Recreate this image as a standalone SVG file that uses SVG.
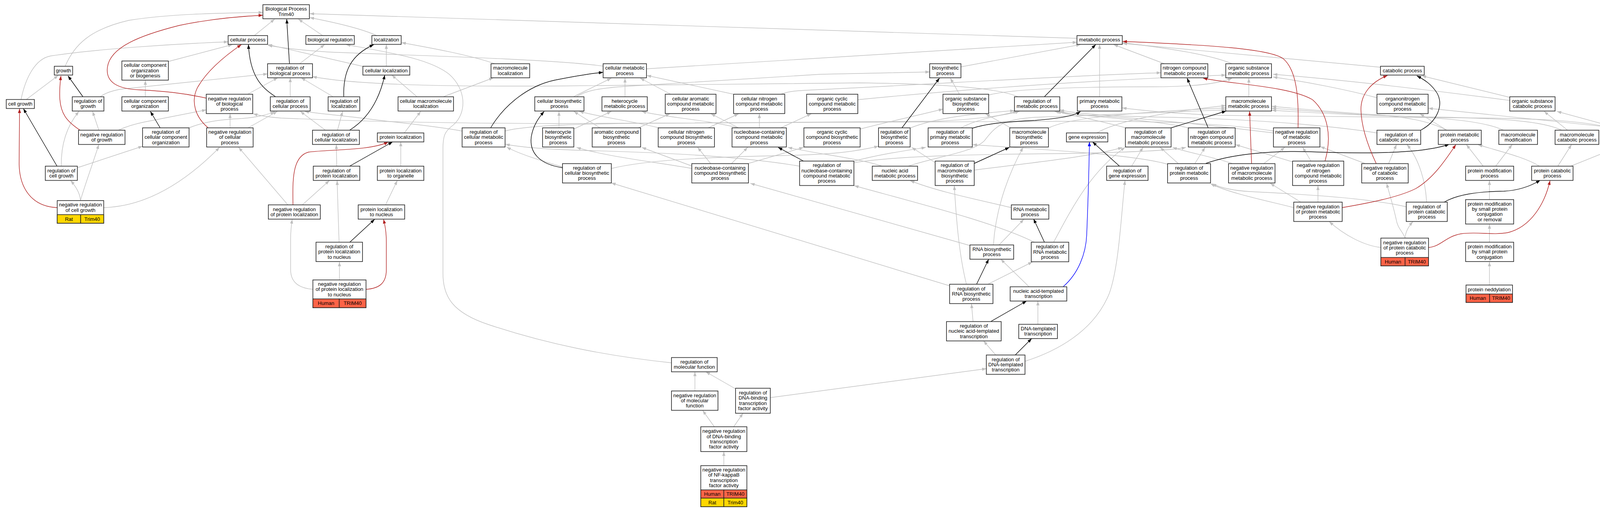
<svg xmlns="http://www.w3.org/2000/svg" width="4281" height="1307" viewBox="0 0 4281 1307">
<style>
text{font-family:"Liberation Sans",Arial,sans-serif;font-size:13px;text-anchor:middle;fill:#000}
.n rect{fill:#fff;stroke:#222;stroke-width:1.6}
rect.hu{fill:#ff6347}
rect.ra{fill:#ffd700}
#connectors path{fill:none;stroke-width:1.4}
#connectors .g{stroke:#c0c0c0;marker-end:url(#ag)}
#connectors .k{stroke:#000;marker-end:url(#ak)}
#connectors .r{stroke:#b22222;marker-end:url(#ar)}
#connectors .b{stroke:#0000ff;marker-end:url(#ab)}
</style>
<defs>
<marker id="ag" viewBox="0 0 11 8" refX="11" refY="4" markerWidth="11" markerHeight="8" markerUnits="userSpaceOnUse" orient="auto"><path d="M0,0L11,4L0,8z" fill="#c0c0c0"/></marker>
<marker id="ak" viewBox="0 0 11 8" refX="11" refY="4" markerWidth="11" markerHeight="8" markerUnits="userSpaceOnUse" orient="auto"><path d="M0,0L11,4L0,8z" fill="#000"/></marker>
<marker id="ar" viewBox="0 0 11 8" refX="11" refY="4" markerWidth="11" markerHeight="8" markerUnits="userSpaceOnUse" orient="auto"><path d="M0,0L11,4L0,8z" fill="#b22222"/></marker>
<marker id="ab" viewBox="0 0 11 8" refX="11" refY="4" markerWidth="11" markerHeight="8" markerUnits="userSpaceOnUse" orient="auto"><path d="M0,0L11,4L0,8z" fill="#0000ff"/></marker>
</defs>
<rect width="4281" height="1307" fill="#fff"/>
<g id="connectors">
<path class="g" d="M651,91L703,49"/>
<path class="g" d="M826,91L764,49"/>
<path class="g" d="M964,91C930,75 860,58 793,45"/>
<path class="g" d="M2757,98L793,35"/>
<path class="g" d="M167,169C190,115 230,75 330,52C430,36 560,33 673,32"/>
<path class="g" d="M767,163L831,114"/>
<path class="g" d="M432,157L595,114"/>
<path class="g" d="M54,254C65,200 90,150 130,143C250,125 450,112 584,107"/>
<path class="g" d="M930,170L686,114"/>
<path class="g" d="M1544,169C1400,150 1000,140 840,133C760,128 720,122 686,116"/>
<path class="g" d="M257,247C270,238 285,232 310,228L685,189"/>
<path class="g" d="M634,241L711,199"/>
<path class="g" d="M743,247L743,199"/>
<path class="g" d="M852,247L771,199"/>
<path class="g" d="M2605,247C2560,228 2450,215 2200,212L1420,220C1100,222 900,215 800,196"/>
<path class="g" d="M68,254L149,193"/>
<path class="g" d="M372,247L372,206"/>
<path class="g" d="M484,327C520,312 560,306 620,303C660,300 690,292 703,285"/>
<path class="g" d="M253,333L237,285"/>
<path class="g" d="M303,333C320,325 340,318 370,312L528,281"/>
<path class="g" d="M157,425C156,380 165,330 202,285"/>
<path class="g" d="M198,429L365,374"/>
<path class="g" d="M206,513C205,495 195,478 181,462"/>
<path class="g" d="M206,513C212,490 230,440 253,370"/>
<path class="g" d="M265,531C380,528 480,460 562,377"/>
<path class="g" d="M589,327L589,291"/>
<path class="g" d="M635,327L710,285"/>
<path class="g" d="M3260,335C3150,318 3000,310 2800,310L1420,316C1000,315 800,305 720,302C690,300 670,297 648,291"/>
<path class="g" d="M989,169L989,114"/>
<path class="g" d="M1267,163C1200,140 1100,122 1028,109"/>
<path class="g" d="M1067,247L1003,192"/>
<path class="g" d="M1136,247L1263,199"/>
<path class="g" d="M864,333L877,285"/>
<path class="g" d="M833,333L769,285"/>
<path class="g" d="M1035,340L1077,285"/>
<path class="g" d="M862,425L861,370"/>
<path class="g" d="M1026,425L1026,363"/>
<path class="g" d="M774,524L843,462"/>
<path class="g" d="M737,524L611,377"/>
<path class="g" d="M987,524L1017,462"/>
<path class="g" d="M868,619L863,462"/>
<path class="g" d="M801,740C770,738 744,725 744,690L744,610C744,590 746,575 748,561"/>
<path class="g" d="M869,716L869,670"/>
<path class="g" d="M1719,928C1550,910 1400,880 1250,830C1160,800 1134,760 1134,700L1134,380C1134,345 1140,335 1160,320C1195,290 1195,230 1150,190C1100,150 1000,135 886,114"/>
<path class="g" d="M1655,176L2757,108"/>
<path class="g" d="M2460,171L2766,114"/>
<path class="g" d="M2815,247L2815,114"/>
<path class="g" d="M2981,163L2851,114"/>
<path class="g" d="M3154,163C3100,140 3000,125 2874,109"/>
<path class="g" d="M3534,172L2874,111"/>
<path class="g" d="M1469,247L1565,200"/>
<path class="g" d="M1476,247C1500,232 1530,226 1600,221L2100,190L2380,184"/>
<path class="g" d="M1600,247L1600,200"/>
<path class="g" d="M1717,241L1639,200"/>
<path class="g" d="M1878,241L1656,193"/>
<path class="g" d="M1999,241C2020,233 2040,232 2080,230C2400,215 2700,195 2972,186"/>
<path class="g" d="M1182,335C1100,320 1000,312 950,305C870,295 810,290 780,285"/>
<path class="g" d="M1293,335C1350,320 1500,316 1700,315L2400,310C2500,305 2570,295 2610,285"/>
<path class="g" d="M1431,327L1431,285"/>
<path class="g" d="M1469,330L1565,285"/>
<path class="g" d="M1536,327L1469,285"/>
<path class="g" d="M1634,327L1715,291"/>
<path class="g" d="M1687,327C1620,310 1540,300 1483,285"/>
<path class="g" d="M1813,327L1891,291"/>
<path class="g" d="M1891,327C1800,305 1700,300 1643,285"/>
<path class="g" d="M1891,327L1820,291"/>
<path class="g" d="M1944,327L1944,291"/>
<path class="g" d="M1999,327L2077,291"/>
<path class="g" d="M2202,330C2280,310 2350,295 2414,279"/>
<path class="g" d="M1772,431C1680,415 1550,400 1476,377"/>
<path class="g" d="M1772,425L1643,377"/>
<path class="g" d="M1819,418L1786,377"/>
<path class="g" d="M1873,418L1914,377"/>
<path class="g" d="M1916,418L2057,377"/>
<path class="g" d="M1440,427C1400,415 1330,395 1297,376"/>
<path class="g" d="M1565,431C1650,410 1800,402 2000,398C2150,395 2200,385 2249,374"/>
<path class="g" d="M2047,425C1900,400 1700,390 1500,385C1400,382 1330,376 1294,369"/>
<path class="g" d="M2187,412C2250,395 2320,385 2370,377"/>
<path class="g" d="M2187,416C2300,398 2500,395 2700,393C2900,390 3000,385 3036,377"/>
<path class="g" d="M2258,425C2200,405 2100,395 2017,377"/>
<path class="g" d="M2325,425C2400,400 2490,390 2520,360C2550,320 2570,305 2650,300C2800,295 3000,286 3138,281"/>
<path class="g" d="M2331,327C2400,300 2500,290 2597,283"/>
<path class="g" d="M2456,241L2433,200"/>
<path class="g" d="M2531,243C2600,225 2800,222 2950,222C3080,222 3130,210 3154,200"/>
<path class="g" d="M2196,255C2500,225 2800,205 3138,192"/>
<path class="g" d="M3197,247L3197,200"/>
<path class="g" d="M3865,257C3700,235 3450,205 3259,190"/>
<path class="g" d="M3525,250C3450,230 3350,210 3259,197"/>
<path class="g" d="M2882,327C2800,305 2740,295 2705,285"/>
<path class="g" d="M3042,327C2950,305 2780,300 2700,285"/>
<path class="g" d="M3260,340C3100,320 2900,300 2800,296C2760,294 2730,290 2713,284"/>
<path class="g" d="M2808,340C2850,315 2950,290 3138,270"/>
<path class="g" d="M2897,425L2926,377"/>
<path class="g" d="M2587,327L2523,291"/>
<path class="g" d="M2685,327C2720,310 2800,292 3138,276"/>
<path class="g" d="M2396,417L2334,377"/>
<path class="g" d="M2494,435C2650,415 2800,400 2873,377"/>
<path class="g" d="M2474,727C2455,650 2448,560 2443,475"/>
<path class="g" d="M2431,731L1565,468"/>
<path class="g" d="M2529,727L2643,670"/>
<path class="g" d="M2589,531C2500,510 2400,490 2330,462"/>
<path class="g" d="M2649,620C2550,570 2350,520 2187,475"/>
<path class="g" d="M2697,620C2740,540 2790,440 2880,377"/>
<path class="g" d="M2635,734L2562,663"/>
<path class="g" d="M2557,627L2621,561"/>
<path class="g" d="M2483,628L1921,469"/>
<path class="g" d="M2543,627C2550,520 2590,430 2619,377"/>
<path class="g" d="M2491,822L2487,777"/>
<path class="g" d="M2549,908L2518,872"/>
<path class="g" d="M2657,830L2657,770"/>
<path class="g" d="M2624,924C2700,900 2800,850 2840,750C2865,680 2870,550 2880,462"/>
<path class="g" d="M1972,1017L2525,943"/>
<path class="g" d="M1882,994L1807,951"/>
<path class="g" d="M1779,1000L1779,951"/>
<path class="g" d="M1829,1092L1799,1050"/>
<path class="g" d="M1878,1092L1902,1057"/>
<path class="g" d="M1853,1191L1853,1155"/>
<path class="g" d="M3865,249L3640,194"/>
<path class="g" d="M3555,418L3575,370"/>
<path class="g" d="M3494,418L3380,375"/>
<path class="g" d="M3704,333L3635,291"/>
<path class="g" d="M3703,333C3660,310 3600,298 3500,292C3400,285 3300,276 3256,272"/>
<path class="g" d="M3849,333C3800,310 3700,300 3500,294L3256,277"/>
<path class="g" d="M3998,333C3950,310 3850,302 3650,299C3500,296 3350,288 3256,282"/>
<path class="g" d="M4013,333L3953,285"/>
<path class="g" d="M4140,327L3657,277"/>
<path class="g" d="M4140,327L3986,285"/>
<path class="g" d="M4140,330C4050,308 3950,302 3700,301L3120,295C3000,290 2920,282 2873,276"/>
<path class="g" d="M3797,425L3754,370"/>
<path class="g" d="M3829,425L3871,370"/>
<path class="g" d="M3941,425C3900,400 3830,385 3784,370"/>
<path class="g" d="M3988,425L4023,370"/>
<path class="g" d="M4021,425L4143,376"/>
<path class="g" d="M3652,517C3650,470 3635,410 3602,370"/>
<path class="g" d="M3600,529C3500,505 3300,495 3200,490C3150,487 3120,478 3103,470"/>
<path class="g" d="M3597,609C3598,595 3605,580 3617,567"/>
<path class="g" d="M3597,609C3590,590 3578,585 3574,560C3565,520 3555,490 3550,469"/>
<path class="g" d="M3535,633C3490,628 3440,600 3403,567"/>
<path class="g" d="M3312,531C3250,515 3150,495 3099,470"/>
<path class="g" d="M3374,517L3374,475"/>
<path class="g" d="M3330,517L3252,469"/>
<path class="g" d="M3356,412L3335,377"/>
<path class="g" d="M3309,414L3163,370"/>
<path class="g" d="M3236,418L3289,377"/>
<path class="g" d="M3154,418C3100,400 3040,390 3002,377"/>
<path class="g" d="M3016,418L2970,377"/>
<path class="g" d="M3059,418L3085,377"/>
<path class="g" d="M2989,420C2900,395 2700,385 2490,370"/>
<path class="g" d="M2460,327C2500,305 2560,295 2605,285"/>
<path class="g" d="M3525,340C3400,320 3200,305 3000,300C2850,298 2760,292 2713,281"/>
<path class="g" d="M3813,510L3813,462"/>
<path class="g" d="M3813,619L3813,574"/>
<path class="g" d="M3813,729L3813,670"/>
<path class="k" d="M741,163L734,49"/>
<path class="k" d="M705,247C670,225 640,195 636,114"/>
<path class="k" d="M212,247L174,194"/>
<path class="k" d="M410,327L385,285"/>
<path class="k" d="M146,425L60,278"/>
<path class="k" d="M880,247C878,180 900,140 957,114"/>
<path class="k" d="M895,333C940,305 970,260 985,192"/>
<path class="k" d="M895,425L1005,363"/>
<path class="k" d="M895,620L959,561"/>
<path class="k" d="M2674,247L2805,114"/>
<path class="k" d="M1256,327C1290,270 1350,220 1420,205C1470,195 1510,188 1544,185"/>
<path class="k" d="M2057,412L1992,377"/>
<path class="k" d="M1440,429C1380,420 1355,390 1360,350C1365,320 1380,300 1393,285"/>
<path class="k" d="M2309,327L2405,200"/>
<path class="k" d="M3093,327L3039,200"/>
<path class="k" d="M2998,327L3139,284"/>
<path class="k" d="M2866,425L2797,363"/>
<path class="k" d="M2494,418L2584,377"/>
<path class="k" d="M2500,727L2531,663"/>
<path class="k" d="M2674,620L2646,560"/>
<path class="k" d="M2537,822L2628,770"/>
<path class="k" d="M2599,908L2641,866"/>
<path class="k" d="M3637,333C3680,310 3695,270 3680,240C3665,215 3645,203 3627,194"/>
<path class="k" d="M3697,517C3730,498 3780,490 3850,489C3890,487 3920,475 3943,461"/>
<path class="k" d="M3087,418C3150,395 3250,385 3350,388C3450,392 3550,393 3630,385C3670,380 3690,376 3710,369"/>
<path class="k" d="M2489,328C2520,318 2560,312 2650,308C2720,302 2750,296 2766,285"/>
<path class="r" d="M528,251C470,238 420,233 360,230C300,228 270,210 275,172C282,120 360,90 459,65C540,48 610,42 673,39"/>
<path class="r" d="M533,327C500,300 488,260 505,225C530,180 580,140 618,114"/>
<path class="r" d="M205,333C170,310 155,290 153,250C152,225 154,210 156,194"/>
<path class="r" d="M146,531C80,528 50,480 49,420L50,278"/>
<path class="r" d="M750,524C749,460 748,400 790,389C850,382 950,385 994,363"/>
<path class="r" d="M937,740C970,738 989,725 989,690L989,620C989,590 985,575 982,561"/>
<path class="r" d="M3323,327C3325,250 3320,180 3285,150C3250,125 3100,115 2874,106"/>
<path class="r" d="M3392,412C3410,350 3400,290 3360,255C3300,220 3150,215 3080,200"/>
<path class="r" d="M3204,418L3199,285"/>
<path class="r" d="M3523,418C3505,380 3485,330 3484,280C3484,240 3510,210 3552,193"/>
<path class="r" d="M3657,633C3690,630 3700,605 3740,598C3780,592 3820,602 3860,595C3920,580 3955,520 3968,462"/>
<path class="r" d="M3436,531C3500,520 3580,505 3625,482C3670,455 3700,410 3727,370"/>
<path class="b" d="M2722,733C2760,700 2780,650 2782,600C2786,500 2788,420 2789,363"/>
</g>
<g id="n_BP" class="n"><rect x="673" y="12" width="119" height="36"/><text x="732.5" y="27.4">Biological Process</text><text x="732.5" y="40.7">Trim40</text></g>
<g id="n_CP" class="n"><rect x="584" y="91" width="101" height="22.5"/><text x="634.5" y="106.2">cellular process</text></g>
<g id="n_BR" class="n"><rect x="783" y="91" width="124" height="22.5"/><text x="845" y="106.2">biological regulation</text></g>
<g id="n_LOC" class="n"><rect x="952" y="91" width="75" height="22.5"/><text x="989.5" y="106.2">localization</text></g>
<g id="n_MP" class="n"><rect x="2757" y="91" width="116" height="22.5"/><text x="2815" y="106.2">metabolic process</text></g>
<g id="n_GRO" class="n"><rect x="139" y="169.5" width="47" height="22.5"/><text x="162.5" y="184.7">growth</text></g>
<g id="n_CCOB" class="n"><rect x="312" y="156" width="119" height="49"/><text x="371.5" y="171.2">cellular component</text><text x="371.5" y="184.5">organization</text><text x="371.5" y="197.8">or biogenesis</text></g>
<g id="n_RBP" class="n"><rect x="685" y="163" width="115" height="36"/><text x="742.5" y="178.4">regulation of</text><text x="742.5" y="191.7">biological process</text></g>
<g id="n_CLOC" class="n"><rect x="929" y="169.5" width="120" height="22.5"/><text x="989" y="184.7">cellular localization</text></g>
<g id="n_MLOC" class="n"><rect x="1257" y="163" width="99" height="36"/><text x="1306.5" y="178.4">macromolecule</text><text x="1306.5" y="191.7">localization</text></g>
<g id="n_CMP" class="n"><rect x="1544" y="163" width="111" height="36"/><text x="1599.5" y="178.4">cellular metabolic</text><text x="1599.5" y="191.7">process</text></g>
<g id="n_BSP" class="n"><rect x="2380" y="163" width="80" height="36"/><text x="2420" y="178.4">biosynthetic</text><text x="2420" y="191.7">process</text></g>
<g id="n_NCMP" class="n"><rect x="2972" y="163" width="120" height="36"/><text x="3032" y="178.4">nitrogen compound</text><text x="3032" y="191.7">metabolic process</text></g>
<g id="n_OSMP" class="n"><rect x="3138" y="163" width="117" height="36"/><text x="3196.5" y="178.4">organic substance</text><text x="3196.5" y="191.7">metabolic process</text></g>
<g id="n_CATP" class="n"><rect x="3534" y="169.5" width="112" height="22.5"/><text x="3590" y="184.7">catabolic process</text></g>
<g id="n_CG" class="n"><rect x="16" y="254.5" width="72" height="23"/><text x="52" y="270">cell growth</text></g>
<g id="n_RG" class="n"><rect x="185" y="247.5" width="81" height="36.5"/><text x="225.5" y="263.1">regulation of</text><text x="225.5" y="276.4">growth</text></g>
<g id="n_CCO" class="n"><rect x="312" y="247.5" width="119" height="36.5"/><text x="371.5" y="263.1">cellular component</text><text x="371.5" y="276.4">organization</text></g>
<g id="n_NRBP" class="n"><rect x="528" y="241" width="119" height="49.5"/><text x="587.5" y="256.5">negative regulation</text><text x="587.5" y="269.8">of biological</text><text x="587.5" y="283.1">process</text></g>
<g id="n_RCP" class="n"><rect x="692" y="247.5" width="102" height="36.5"/><text x="743" y="263.1">regulation of</text><text x="743" y="276.4">cellular process</text></g>
<g id="n_RLOC" class="n"><rect x="840" y="247.5" width="81" height="36.5"/><text x="880.5" y="263.1">regulation of</text><text x="880.5" y="276.4">localization</text></g>
<g id="n_CMLOC" class="n"><rect x="1019" y="247.5" width="142" height="36.5"/><text x="1090" y="263.1">cellular macromolecule</text><text x="1090" y="276.4">localization</text></g>
<g id="n_CBSP" class="n"><rect x="1369" y="247.5" width="126" height="36.5"/><text x="1432" y="263.1">cellular biosynthetic</text><text x="1432" y="276.4">process</text></g>
<g id="n_HMP" class="n"><rect x="1541" y="247.5" width="116" height="36.5"/><text x="1599" y="263.1">heterocycle</text><text x="1599" y="276.4">metabolic process</text></g>
<g id="n_CACMP" class="n"><rect x="1703" y="241" width="130" height="49.5"/><text x="1768" y="256.5">cellular aromatic</text><text x="1768" y="269.8">compound metabolic</text><text x="1768" y="283.1">process</text></g>
<g id="n_CNCMP" class="n"><rect x="1878" y="241" width="131" height="49.5"/><text x="1943.5" y="256.5">cellular nitrogen</text><text x="1943.5" y="269.8">compound metabolic</text><text x="1943.5" y="283.1">process</text></g>
<g id="n_OCCMP" class="n"><rect x="2065" y="241" width="131" height="49.5"/><text x="2130.5" y="256.5">organic cyclic</text><text x="2130.5" y="269.8">compound metabolic</text><text x="2130.5" y="283.1">process</text></g>
<g id="n_OSBP" class="n"><rect x="2414" y="241" width="117" height="49.5"/><text x="2472.5" y="256.5">organic substance</text><text x="2472.5" y="269.8">biosynthetic</text><text x="2472.5" y="283.1">process</text></g>
<g id="n_RMP" class="n"><rect x="2597" y="247.5" width="116" height="36.5"/><text x="2655" y="263.1">regulation of</text><text x="2655" y="276.4">metabolic process</text></g>
<g id="n_PMP" class="n"><rect x="2758" y="247.5" width="114" height="36.5"/><text x="2815" y="263.1">primary metabolic</text><text x="2815" y="276.4">process</text></g>
<g id="n_MMP" class="n"><rect x="3138" y="247.5" width="117" height="36.5"/><text x="3196.5" y="263.1">macromolecule</text><text x="3196.5" y="276.4">metabolic process</text></g>
<g id="n_ONCMP" class="n"><rect x="3525" y="241" width="131" height="49.5"/><text x="3590.5" y="256.5">organonitrogen</text><text x="3590.5" y="269.8">compound metabolic</text><text x="3590.5" y="283.1">process</text></g>
<g id="n_OSCP" class="n"><rect x="3865" y="247.5" width="116" height="36.5"/><text x="3923" y="263.1">organic substance</text><text x="3923" y="276.4">catabolic process</text></g>
<g id="n_NRG" class="n"><rect x="201" y="333" width="119" height="36.5"/><text x="260.5" y="348.7">negative regulation</text><text x="260.5" y="362">of growth</text></g>
<g id="n_RCCO" class="n"><rect x="365" y="327" width="119" height="49"/><text x="424.5" y="342">regulation of</text><text x="424.5" y="355.3">cellular component</text><text x="424.5" y="368.6">organization</text></g>
<g id="n_NRCP" class="n"><rect x="529" y="327" width="119" height="49"/><text x="588.5" y="342">negative regulation</text><text x="588.5" y="355.3">of cellular</text><text x="588.5" y="368.6">process</text></g>
<g id="n_RCLOC" class="n"><rect x="800" y="333" width="120" height="36.5"/><text x="860" y="348.7">regulation of</text><text x="860" y="362">cellular localization</text></g>
<g id="n_PLOC" class="n"><rect x="966" y="340" width="119" height="23"/><text x="1025.5" y="355.3">protein localization</text></g>
<g id="n_RCMP" class="n"><rect x="1183" y="327" width="110" height="49"/><text x="1238" y="342">regulation of</text><text x="1238" y="355.3">cellular metabolic</text><text x="1238" y="368.6">process</text></g>
<g id="n_HBP" class="n"><rect x="1389" y="327" width="80" height="49"/><text x="1429" y="342">heterocycle</text><text x="1429" y="355.3">biosynthetic</text><text x="1429" y="368.6">process</text></g>
<g id="n_ACBP" class="n"><rect x="1516" y="327" width="124" height="49"/><text x="1578" y="342">aromatic compound</text><text x="1578" y="355.3">biosynthetic</text><text x="1578" y="368.6">process</text></g>
<g id="n_CNCBP" class="n"><rect x="1685" y="327" width="144" height="49"/><text x="1757" y="342">cellular nitrogen</text><text x="1757" y="355.3">compound biosynthetic</text><text x="1757" y="368.6">process</text></g>
<g id="n_NBCMP" class="n"><rect x="1874" y="327" width="139" height="49"/><text x="1943.5" y="342">nucleobase-containing</text><text x="1943.5" y="355.3">compound metabolic</text><text x="1943.5" y="368.6">process</text></g>
<g id="n_OCCBP" class="n"><rect x="2058" y="327" width="144" height="49"/><text x="2130" y="342">organic cyclic</text><text x="2130" y="355.3">compound biosynthetic</text><text x="2130" y="368.6">process</text></g>
<g id="n_RBSP" class="n"><rect x="2249" y="327" width="81" height="49"/><text x="2289.5" y="342">regulation of</text><text x="2289.5" y="355.3">biosynthetic</text><text x="2289.5" y="368.6">process</text></g>
<g id="n_RPMP" class="n"><rect x="2376" y="327" width="113" height="49"/><text x="2432.5" y="342">regulation of</text><text x="2432.5" y="355.3">primary metabolic</text><text x="2432.5" y="368.6">process</text></g>
<g id="n_MBP" class="n"><rect x="2585" y="327" width="99" height="49"/><text x="2634.5" y="342">macromolecule</text><text x="2634.5" y="355.3">biosynthetic</text><text x="2634.5" y="368.6">process</text></g>
<g id="n_GE" class="n"><rect x="2730" y="340" width="106" height="23"/><text x="2783" y="355.3">gene expression</text></g>
<g id="n_RMMP" class="n"><rect x="2881" y="327" width="117" height="49"/><text x="2939.5" y="342">regulation of</text><text x="2939.5" y="355.3">macromolecule</text><text x="2939.5" y="368.6">metabolic process</text></g>
<g id="n_RNCMP" class="n"><rect x="3042" y="327" width="120" height="49"/><text x="3102" y="342">regulation of</text><text x="3102" y="355.3">nitrogen compound</text><text x="3102" y="368.6">metabolic process</text></g>
<g id="n_NRMP" class="n"><rect x="3260" y="327" width="119" height="49"/><text x="3319.5" y="342">negative regulation</text><text x="3319.5" y="355.3">of metabolic</text><text x="3319.5" y="368.6">process</text></g>
<g id="n_RCATP" class="n"><rect x="3525" y="333" width="112" height="36.5"/><text x="3581" y="348.7">regulation of</text><text x="3581" y="362">catabolic process</text></g>
<g id="n_PRMP" class="n"><rect x="3682" y="333" width="110" height="36.5"/><text x="3737" y="348.7">protein metabolic</text><text x="3737" y="362">process</text></g>
<g id="n_MMOD" class="n"><rect x="3837" y="333" width="99" height="36.5"/><text x="3886.5" y="348.7">macromolecule</text><text x="3886.5" y="362">modification</text></g>
<g id="n_MCATP" class="n"><rect x="3981" y="333" width="112" height="36.5"/><text x="4037" y="348.7">macromolecule</text><text x="4037" y="362">catabolic process</text></g>
<g id="n_ONCCP" class="n"><rect x="4140" y="327" width="127" height="49"/><text x="4203.5" y="342">organonitrogen</text><text x="4203.5" y="355.3">compound catabolic</text><text x="4203.5" y="368.6">process</text></g>
<g id="n_RCG" class="n"><rect x="116" y="425" width="82" height="36.5"/><text x="157" y="440.5">regulation of</text><text x="157" y="453.8">cell growth</text></g>
<g id="n_RPLOC" class="n"><rect x="802" y="425" width="119" height="36.5"/><text x="861.5" y="440.5">regulation of</text><text x="861.5" y="453.8">protein localization</text></g>
<g id="n_PLOCO" class="n"><rect x="966" y="425" width="119" height="36.5"/><text x="1025.5" y="440.5">protein localization</text><text x="1025.5" y="453.8">to organelle</text></g>
<g id="n_RCBSP" class="n"><rect x="1440" y="418.5" width="125" height="49.5"/><text x="1502.5" y="433.8">regulation of</text><text x="1502.5" y="447.1">cellular biosynthetic</text><text x="1502.5" y="460.4">process</text></g>
<g id="n_NBCBP" class="n"><rect x="1771" y="418.5" width="145" height="49.5"/><text x="1843.5" y="433.8">nucleobase-containing</text><text x="1843.5" y="447.1">compound biosynthetic</text><text x="1843.5" y="460.4">process</text></g>
<g id="n_RNBCMP" class="n"><rect x="2047" y="412" width="139" height="62.5"/><text x="2116.5" y="427.2">regulation of</text><text x="2116.5" y="440.5">nucleobase-containing</text><text x="2116.5" y="453.8">compound metabolic</text><text x="2116.5" y="467.1">process</text></g>
<g id="n_NAMP" class="n"><rect x="2233" y="425" width="116" height="36.5"/><text x="2291" y="440.5">nucleic acid</text><text x="2291" y="453.8">metabolic process</text></g>
<g id="n_RMBP" class="n"><rect x="2394" y="412" width="100" height="62.5"/><text x="2444" y="427.2">regulation of</text><text x="2444" y="440.5">macromolecule</text><text x="2444" y="453.8">biosynthetic</text><text x="2444" y="467.1">process</text></g>
<g id="n_RGE" class="n"><rect x="2833" y="425" width="106" height="36.5"/><text x="2886" y="440.5">regulation of</text><text x="2886" y="453.8">gene expression</text></g>
<g id="n_RPRMP" class="n"><rect x="2989" y="418.5" width="110" height="49.5"/><text x="3044" y="433.8">regulation of</text><text x="3044" y="447.1">protein metabolic</text><text x="3044" y="460.4">process</text></g>
<g id="n_NRMMP" class="n"><rect x="3145" y="418.5" width="119" height="49.5"/><text x="3204.5" y="433.8">negative regulation</text><text x="3204.5" y="447.1">of macromolecule</text><text x="3204.5" y="460.4">metabolic process</text></g>
<g id="n_NRNCMP" class="n"><rect x="3309" y="412" width="131" height="62.5"/><text x="3374.5" y="427.2">negative regulation</text><text x="3374.5" y="440.5">of nitrogen</text><text x="3374.5" y="453.8">compound metabolic</text><text x="3374.5" y="467.1">process</text></g>
<g id="n_NRCATP" class="n"><rect x="3486" y="418.5" width="119" height="49.5"/><text x="3545.5" y="433.8">negative regulation</text><text x="3545.5" y="447.1">of catabolic</text><text x="3545.5" y="460.4">process</text></g>
<g id="n_PMODP" class="n"><rect x="3752" y="425" width="123" height="36.5"/><text x="3813.5" y="440.5">protein modification</text><text x="3813.5" y="453.8">process</text></g>
<g id="n_PCATP" class="n"><rect x="3921" y="425" width="106" height="36.5"/><text x="3974" y="440.5">protein catabolic</text><text x="3974" y="453.8">process</text></g>
<g id="n_NRCG" class="n"><rect x="146.5" y="513" width="119" height="58"/><text x="206" y="528.4">negative regulation</text><text x="206" y="541.7">of cell growth</text><rect class="ra" x="146.5" y="549" width="60" height="22"/><rect class="ra" x="206.5" y="549" width="59" height="22"/><text x="176.5" y="564.5">Rat</text><text x="236" y="564.5">Trim40</text></g>
<g id="n_NRPLOC" class="n"><rect x="687" y="524" width="133" height="36.5"/><text x="753.5" y="539.6">negative regulation</text><text x="753.5" y="552.9">of protein localization</text></g>
<g id="n_PLOCN" class="n"><rect x="917" y="524" width="119" height="36.5"/><text x="976.5" y="539.6">protein localization</text><text x="976.5" y="552.9">to nucleus</text></g>
<g id="n_RNAMP" class="n"><rect x="2589" y="524" width="96" height="36.5"/><text x="2637" y="539.6">RNA metabolic</text><text x="2637" y="552.9">process</text></g>
<g id="n_NRPRMP" class="n"><rect x="3312" y="517" width="124" height="49.5"/><text x="3374" y="532.5">negative regulation</text><text x="3374" y="545.8">of protein metabolic</text><text x="3374" y="559.1">process</text></g>
<g id="n_RPCATP" class="n"><rect x="3600" y="517" width="105" height="49.5"/><text x="3652.5" y="532.5">regulation of</text><text x="3652.5" y="545.8">protein catabolic</text><text x="3652.5" y="559.1">process</text></g>
<g id="n_PMSPCR" class="n"><rect x="3752" y="510.5" width="123" height="62.5"/><text x="3813.5" y="525.8">protein modification</text><text x="3813.5" y="539.1">by small protein</text><text x="3813.5" y="552.4">conjugation</text><text x="3813.5" y="565.7">or removal</text></g>
<g id="n_RPLOCN" class="n"><rect x="809" y="619.5" width="119" height="49.5"/><text x="868.5" y="635">regulation of</text><text x="868.5" y="648.3">protein localization</text><text x="868.5" y="661.6">to nucleus</text></g>
<g id="n_RNABP" class="n"><rect x="2483" y="626.5" width="112" height="36.5"/><text x="2539" y="642.1">RNA biosynthetic</text><text x="2539" y="655.4">process</text></g>
<g id="n_RRNAMP" class="n"><rect x="2640" y="619.5" width="96" height="50"/><text x="2688" y="635.2">regulation of</text><text x="2688" y="648.5">RNA metabolic</text><text x="2688" y="661.8">process</text></g>
<g id="n_NRPCATP" class="n"><rect x="3535" y="609" width="122" height="71"/><text x="3596" y="624.5">negative regulation</text><text x="3596" y="637.8">of protein catabolic</text><text x="3596" y="651.1">process</text><rect class="hu" x="3535" y="658.5" width="62" height="21.5"/><rect class="hu" x="3597" y="658.5" width="60" height="21.5"/><text x="3566" y="673.5">Human</text><text x="3627" y="673.5">TRIM40</text></g>
<g id="n_PMSPC" class="n"><rect x="3752" y="619.5" width="123" height="49.5"/><text x="3813.5" y="635">protein modification</text><text x="3813.5" y="648.3">by small protein</text><text x="3813.5" y="661.6">conjugation</text></g>
<g id="n_NRPLOCN" class="n"><rect x="801" y="716" width="136" height="71"/><text x="869" y="731">negative regulation</text><text x="869" y="744.3">of protein localization</text><text x="869" y="757.6">to nucleus</text><rect class="hu" x="801" y="764.5" width="67.5" height="22.5"/><rect class="hu" x="868.5" y="764.5" width="68.5" height="22.5"/><text x="834.8" y="780">Human</text><text x="902.8" y="780">TRIM40</text></g>
<g id="n_RRNABP" class="n"><rect x="2431" y="727" width="111" height="49.5"/><text x="2486.5" y="742.5">regulation of</text><text x="2486.5" y="755.8">RNA biosynthetic</text><text x="2486.5" y="769.1">process</text></g>
<g id="n_NATT" class="n"><rect x="2586" y="733.5" width="145" height="36.5"/><text x="2658.5" y="749.1">nucleic acid-templated</text><text x="2658.5" y="762.4">transcription</text></g>
<g id="n_NEDD" class="n"><rect x="3753" y="729" width="119" height="44.5"/><text x="3812.5" y="744.7">protein neddylation</text><rect class="hu" x="3753" y="752" width="60.5" height="21.5"/><rect class="hu" x="3813.5" y="752" width="58.5" height="21.5"/><text x="3783.3" y="767">Human</text><text x="3842.8" y="767">TRIM40</text></g>
<g id="n_RNATT" class="n"><rect x="2423" y="822.5" width="140" height="49.5"/><text x="2493" y="838">regulation of</text><text x="2493" y="851.3">nucleic acid-templated</text><text x="2493" y="864.6">transcription</text></g>
<g id="n_DTT" class="n"><rect x="2608" y="829.5" width="99" height="36.5"/><text x="2657.5" y="845.1">DNA-templated</text><text x="2657.5" y="858.4">transcription</text></g>
<g id="n_RMF" class="n"><rect x="1719" y="914.5" width="117" height="36.5"/><text x="1777.5" y="930.1">regulation of</text><text x="1777.5" y="943.4">molecular function</text></g>
<g id="n_RDTT" class="n"><rect x="2525" y="908" width="99" height="49.5"/><text x="2574.5" y="923.5">regulation of</text><text x="2574.5" y="936.8">DNA-templated</text><text x="2574.5" y="950.1">transcription</text></g>
<g id="n_NRMF" class="n"><rect x="1719" y="1000" width="119" height="49.5"/><text x="1778.5" y="1015.5">negative regulation</text><text x="1778.5" y="1028.8">of molecular</text><text x="1778.5" y="1042.1">function</text></g>
<g id="n_RDBTFA" class="n"><rect x="1883" y="993" width="89" height="64"/><text x="1927.5" y="1009.1">regulation of</text><text x="1927.5" y="1022.4">DNA-binding</text><text x="1927.5" y="1035.7">transcription</text><text x="1927.5" y="1049">factor activity</text></g>
<g id="n_NRDBTFA" class="n"><rect x="1794" y="1091.5" width="118" height="63.5"/><text x="1853" y="1107.3">negative regulation</text><text x="1853" y="1120.6">of DNA-binding</text><text x="1853" y="1133.9">transcription</text><text x="1853" y="1147.2">factor activity</text></g>
<g id="n_NRNFKB" class="n"><rect x="1794" y="1191" width="118" height="105"/><text x="1853" y="1206.1">negative regulation</text><text x="1853" y="1219.4">of NF-kappaB</text><text x="1853" y="1232.7">transcription</text><text x="1853" y="1246">factor activity</text><rect class="hu" x="1794" y="1253" width="59" height="21"/><rect class="hu" x="1853" y="1253" width="59" height="21"/><text x="1823.5" y="1268">Human</text><text x="1882.5" y="1268">TRIM40</text><rect class="ra" x="1794" y="1274" width="59" height="22"/><rect class="ra" x="1853" y="1274" width="59" height="22"/><text x="1823.5" y="1289.5">Rat</text><text x="1882.5" y="1289.5">Trim40</text></g>
</svg>
